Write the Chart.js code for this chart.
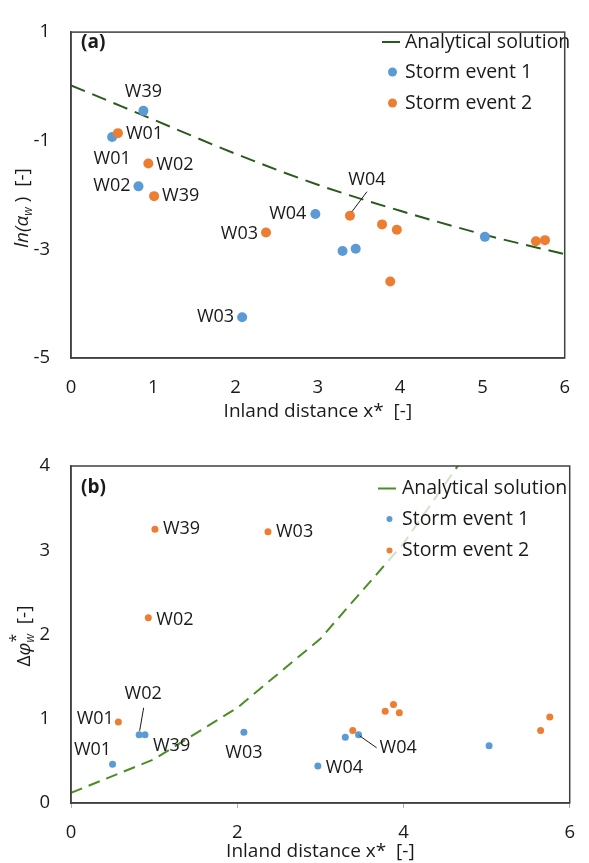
<!DOCTYPE html>
<html>
<head>
<meta charset="utf-8">
<script src="https://cdn.jsdelivr.net/npm/chart.js@4.4.1/dist/chart.umd.min.js"></script>
<style>
html, body { margin: 0; padding: 0; background: #fff; }
#wrap { position: relative; width: 589px; height: 863px; }
canvas { position: absolute; left: 0; }
#chartA { top: 0; }
#chartB { top: 420px; }
</style>
</head>
<body>
<div id="wrap">
<canvas id="chartA" width="589" height="420"></canvas>
<canvas id="chartB" width="589" height="443"></canvas>
</div>
<script>
// panel (a): ln(alpha_w) vs inland distance
const lineAX = [0, 1, 2, 3, 4, 5, 6];
const lineAY = [0.02, -0.61, -1.24, -1.81, -2.29, -2.72, -3.09];
const storm1AX = [0.50, 0.82, 0.88, 2.08, 2.97, 3.30, 3.46, 5.03];
const storm1AY = [-0.93, -1.84, -0.45, -4.25, -2.35, -3.03, -2.99, -2.77];
const storm1ANames = ['W01', 'W02', 'W39', 'W03', 'W04', '', '', ''];
const storm2AX = [0.57, 0.94, 1.01, 2.37, 3.39, 3.78, 3.96, 3.88, 5.65, 5.76];
const storm2AY = [-0.86, -1.42, -2.02, -2.69, -2.38, -2.54, -2.64, -3.59, -2.85, -2.83];
const storm2ANames = ['W01', 'W02', 'W39', 'W03', 'W04', '', '', '', '', ''];

// panel (b): delta phi_w* vs inland distance
const lineBX = [0, 1, 2, 3, 4, 5];
const lineBY = [0.12, 0.52, 1.13, 1.95, 3.08, 4.49];
const storm1BX = [0.50, 0.82, 0.89, 2.08, 2.97, 3.30, 3.46, 5.03];
const storm1BY = [0.46, 0.81, 0.81, 0.84, 0.44, 0.78, 0.81, 0.68];
const storm1BNames = ['W01', 'W02', 'W39', 'W03', 'W04', '', 'W04', ''];
const storm2BX = [0.57, 0.93, 1.01, 2.37, 3.39, 3.78, 3.88, 3.95, 5.65, 5.76];
const storm2BY = [0.96, 2.20, 3.25, 3.22, 0.86, 1.09, 1.17, 1.07, 0.86, 1.02];
const storm2BNames = ['W01', 'W02', 'W39', 'W03', '', '', '', '', '', ''];

const seriesNames = ['Analytical solution', 'Storm event 1', 'Storm event 2'];
const xTitle = 'Inland distance x*  [-]';

const FONT = '"Open Sans", "DejaVu Sans", sans-serif';
const TEXT = '#1a1a1a';
const BLUE = '#5b9bd5';
const ORANGE = '#ed7d31';

// where each well name sits relative to its point (px)
const placeA = [
    { ds: 1, i: 0, dx: 0, dy: 22, align: 'center' },
    { ds: 1, i: 1, dx: -8, dy: 0, align: 'right' },
    { ds: 1, i: 2, dx: 0, dy: -19, align: 'center' },
    { ds: 1, i: 3, dx: -8, dy: 0, align: 'right' },
    { ds: 1, i: 4, dx: -9, dy: 0, align: 'right' },
    { ds: 2, i: 0, dx: 8, dy: 1, align: 'left' },
    { ds: 2, i: 1, dx: 8, dy: 1, align: 'left' },
    { ds: 2, i: 2, dx: 8, dy: 0, align: 'left' },
    { ds: 2, i: 3, dx: -8, dy: 1, align: 'right' },
    { ds: 2, i: 4, dx: 17, dy: -36, align: 'center', leader: [2, -4, 17, -24] }
];
const placeB = [
    { ds: 1, i: 0, dx: -20, dy: -14, align: 'center' },
    { ds: 1, i: 1, dx: 4, dy: -41, align: 'center', leader: [0.5, -4, 4.5, -27] },
    { ds: 1, i: 2, dx: 8, dy: 11, align: 'left' },
    { ds: 1, i: 3, dx: 0, dy: 21, align: 'center' },
    { ds: 1, i: 4, dx: 8, dy: 2, align: 'left' },
    { ds: 1, i: 6, dx: 21, dy: 13, align: 'left', leader: [1, 1, 18, 13] },
    { ds: 2, i: 0, dx: -4.5, dy: -3, align: 'right' },
    { ds: 2, i: 1, dx: 8, dy: 2, align: 'left' },
    { ds: 2, i: 2, dx: 8, dy: 0, align: 'left' },
    { ds: 2, i: 3, dx: 8, dy: 0, align: 'left' }
];

function pts(xs, ys) {
    return xs.map((x, i) => ({ x: x, y: ys[i] }));
}

function drawRotated(ctx, parts, cx, cy) {
    ctx.save();
    ctx.translate(cx, cy);
    ctx.rotate(-Math.PI / 2);
    ctx.fillStyle = TEXT;
    ctx.textBaseline = 'middle';
    ctx.textAlign = 'left';
    let total = 0;
    parts.forEach(p => {
        ctx.font = p.font;
        p.w = ctx.measureText(p.t).width;
        total += (p.adv === undefined ? p.w : p.adv);
    });
    let x = -total / 2;
    parts.forEach(p => {
        ctx.font = p.font;
        ctx.fillText(p.t, x, p.dy || 0);
        x += (p.adv === undefined ? p.w : p.adv);
    });
    ctx.restore();
}

function overlay(cfg) {
    return {
        id: 'overlay',
        afterDatasetsDraw(chart) {
            const ctx = chart.ctx;
            ctx.save();
            ctx.font = '18px ' + FONT;
            ctx.fillStyle = TEXT;
            ctx.strokeStyle = TEXT;
            ctx.lineWidth = 1;
            ctx.textBaseline = 'middle';
            cfg.place.forEach(l => {
                const el = chart.getDatasetMeta(l.ds).data[l.i];
                ctx.textAlign = l.align;
                ctx.fillText(cfg.names[l.ds][l.i], el.x + l.dx, el.y + l.dy);
                if (l.leader) {
                    ctx.beginPath();
                    ctx.moveTo(el.x + l.leader[0], el.y + l.leader[1]);
                    ctx.lineTo(el.x + l.leader[2], el.y + l.leader[3]);
                    ctx.stroke();
                }
            });

            // legend
            const lg = cfg.legend;
            if (lg.bg) {
                ctx.fillStyle = 'rgba(255,255,255,0.75)';
                ctx.fillRect(lg.bg[0], lg.bg[1], lg.bg[2], lg.bg[3]);
            }
            const ds = chart.data.datasets;
            ctx.font = '19.5px ' + FONT;
            ctx.textAlign = 'left';
            lg.ys.forEach((y, k) => {
                if (k === 0) {
                    ctx.strokeStyle = ds[0].borderColor;
                    ctx.lineWidth = 2;
                    ctx.beginPath();
                    ctx.moveTo(lg.lineX[0], y);
                    ctx.lineTo(lg.lineX[1], y);
                    ctx.stroke();
                } else {
                    ctx.fillStyle = ds[k].backgroundColor;
                    ctx.beginPath();
                    ctx.arc(lg.dotX, y, lg.dotR, 0, Math.PI * 2);
                    ctx.fill();
                }
                ctx.fillStyle = TEXT;
                ctx.fillText(ds[k].label, lg.textX, y);
            });
            ctx.restore();
        },
        afterDraw(chart) {
            const ctx = chart.ctx;
            const a = chart.chartArea;
            ctx.save();
            ctx.strokeStyle = '#404040';
            ctx.lineWidth = 1.5;
            ctx.strokeRect(a.left, a.top, a.right - a.left, a.bottom - a.top);
            ctx.fillStyle = TEXT;
            ctx.font = 'bold 19px ' + FONT;
            ctx.textBaseline = 'middle';
            ctx.textAlign = 'left';
            ctx.fillText(cfg.tag, cfg.tagPos[0], cfg.tagPos[1]);
            ctx.restore();
            drawRotated(ctx, cfg.yTitle, cfg.yTitlePos[0], cfg.yTitlePos[1]);
        }
    };
}

function makeChart(id, cfg) {
    const canvas = document.getElementById(id);
    return new Chart(canvas.getContext('2d'), {
        type: 'scatter',
        data: {
            datasets: [
                {
                    label: seriesNames[0],
                    data: pts(cfg.lineX, cfg.lineY),
                    showLine: true,
                    borderColor: cfg.lineColor,
                    backgroundColor: cfg.lineColor,
                    borderWidth: 2,
                    borderDash: cfg.dash,
                    pointRadius: 0,
                    cubicInterpolationMode: cfg.smooth ? 'monotone' : 'default',
                    tension: 0,
                    order: 3
                },
                {
                    label: seriesNames[1],
                    data: pts(cfg.s1x, cfg.s1y),
                    backgroundColor: BLUE,
                    borderColor: BLUE,
                    borderWidth: 0,
                    pointRadius: cfg.r,
                    order: 2
                },
                {
                    label: seriesNames[2],
                    data: pts(cfg.s2x, cfg.s2y),
                    backgroundColor: ORANGE,
                    borderColor: ORANGE,
                    borderWidth: 0,
                    pointRadius: cfg.r,
                    order: 1
                }
            ]
        },
        options: {
            responsive: false,
            animation: false,
            devicePixelRatio: 1,
            events: [],
            layout: { padding: { top: cfg.padTop, right: 6, left: 0, bottom: 0 } },
            plugins: { legend: { display: false }, tooltip: { enabled: false } },
            scales: {
                x: {
                    type: 'linear',
                    min: 0,
                    max: 6,
                    afterFit: s => { s.height = cfg.xHeight; },
                    ticks: { stepSize: cfg.xStep, color: TEXT, font: { family: FONT, size: 18.5 }, padding: cfg.xTickPad },
                    grid: cfg.xTicks
                        ? { display: true, drawOnChartArea: false, drawTicks: true, tickLength: 5, color: '#b0b0b0' }
                        : { display: false, drawTicks: false },
                    border: { display: true, color: '#404040', width: 1.5 },
                    title: {
                        display: true,
                        text: xTitle,
                        color: TEXT,
                        font: { family: FONT, size: 19, lineHeight: 1 },
                        padding: { top: 0, bottom: cfg.xTitlePad }
                    }
                },
                y: {
                    min: cfg.yMin,
                    max: cfg.yMax,
                    afterFit: s => { s.width = 71; },
                    ticks: { stepSize: cfg.yStep, color: TEXT, font: { family: FONT, size: 18.5 }, padding: 21 },
                    grid: { display: false, drawTicks: false },
                    border: { display: true, color: '#404040', width: 1.5 }
                }
            }
        },
        plugins: [overlay(cfg)]
    });
}

makeChart('chartA', {
    lineX: lineAX, lineY: lineAY, s1x: storm1AX, s1y: storm1AY, s2x: storm2AX, s2y: storm2AY,
    names: [[], storm1ANames, storm2ANames],
    place: placeA,
    lineColor: '#2b5a1f', dash: [15, 8], smooth: true, r: 5,
    padTop: 21, xHeight: 62, xStep: 1, xTickPad: 19, xTicks: false, xTitlePad: -1,
    yMin: -5, yMax: 1, yStep: 2,
    legend: { ys: [42, 72, 103], lineX: [382, 400], dotX: 392.5, dotR: 4.5, textX: 405 },
    tag: '(a)', tagPos: [81, 43],
    yTitle: [
        { t: 'ln(α', font: 'italic 19px ' + FONT },
        { t: 'w', font: 'italic 12px ' + FONT, dy: 6 },
        { t: ' )  [-]', font: '19px ' + FONT }
    ],
    yTitlePos: [23, 208]
});

makeChart('chartB', {
    lineX: lineBX, lineY: lineBY, s1x: storm1BX, s1y: storm1BY, s2x: storm2BX, s2y: storm2BY,
    names: [[], storm1BNames, storm2BNames],
    place: placeB,
    lineColor: '#4a8f23', dash: [12, 7], smooth: false, r: 3.5,
    padTop: 46, xHeight: 60, xStep: 2, xTickPad: 14, xTicks: true, xTitlePad: 2,
    yMin: 0, yMax: 4, yStep: 1,
    legend: { bg: [372, 50, 201, 95], ys: [68.5, 99, 130.5], lineX: [378, 396], dotX: 389.5, dotR: 3, textX: 402 },
    tag: '(b)', tagPos: [81, 68],
    yTitle: [
        { t: 'Δ', font: '19px ' + FONT },
        { t: 'φ', font: 'italic 19px ' + FONT },
        { t: '*', font: '16px ' + FONT, dy: -9, adv: 0 },
        { t: 'w', font: 'italic 12px ' + FONT, dy: 6 },
        { t: '  [-]', font: '19px ' + FONT }
    ],
    yTitlePos: [25, 216]
});
</script>
</body>
</html>
